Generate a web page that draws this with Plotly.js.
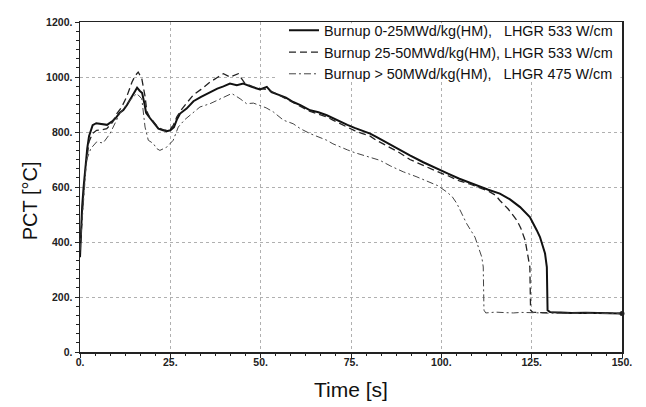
<!DOCTYPE html>
<html>
<head>
<meta charset="utf-8">
<script src="https://cdn.plot.ly/plotly-3.0.1.min.js"></script>
<style>
  html, body { margin: 0; padding: 0; background: #fff; }
  #chart { width: 646px; height: 407px; }
</style>
</head>
<body>
<div id="chart"></div>
<script>
// Series names
const seriesNames = [
  'Burnup 0-25MWd/kg(HM),\u00a0\u00a0\u00a0LHGR 533 W/cm',
  'Burnup 25-50MWd/kg(HM), LHGR 533 W/cm',
  'Burnup > 50MWd/kg(HM),\u00a0\u00a0\u00a0LHGR 475 W/cm'
];

// Burnup 0-25 MWd/kg(HM): time [s], PCT [°C]
const time1 = [0, 0.3, 0.6, 1, 1.5, 2, 2.5, 3, 3.5, 4.5, 6, 7.5, 9, 10, 11, 12, 13, 14, 15, 15.8, 16.5, 17.2, 17.8, 18.3, 19.4, 20.5, 21.7, 23, 24, 25, 26, 26.8, 27.7, 29.5, 31.4, 33.5, 36, 38, 39.7, 41.5, 43.4, 45.2, 47.5, 49.8, 51.7, 53, 55.4, 57, 59, 61, 63.7, 66, 68.3, 70, 72, 74, 76, 78, 80.3, 82, 85, 88, 91.3, 95, 99.6, 102, 105, 108, 110.7, 113, 116.2, 119, 121.8, 123.6, 124.5, 126.4, 127.3, 128.7, 129.2, 129.4, 130.1, 133, 136, 140, 145, 150];
const pct1  = [345, 450, 530, 600, 680, 740, 785, 810, 825, 832, 828, 826, 840, 852, 870, 880, 898, 920, 945, 961, 950, 942, 905, 870, 850, 830, 812, 806, 803, 806, 818, 845, 867, 885, 912, 928, 945, 958, 966, 976, 970, 976, 964, 955, 964, 945, 933, 925, 909, 898, 879, 872, 861, 850, 840, 826, 815, 806, 794, 782, 760, 738, 715, 690, 661, 648, 630, 615, 600, 590, 576, 555, 527, 503, 491, 443, 418, 358, 309, 152, 145, 144, 142, 143, 141, 140];

// Burnup 25-50 MWd/kg(HM)
const time2 = [0, 0.5, 1, 1.5, 2, 2.5, 3.5, 4.6, 6, 7.4, 9, 10.2, 11.5, 12.9, 14.4, 15.3, 16.1, 17.1, 18, 18.5, 19.4, 20, 21.7, 23.5, 25, 25.8, 26.8, 28, 29.5, 31.4, 33.5, 36, 38, 39.7, 41.5, 43.8, 45.7, 48, 50, 51.7, 55, 57, 59, 61, 63.7, 66, 68.3, 70, 72, 74, 76, 78, 80.3, 82, 85, 88, 91.3, 95, 99.6, 102, 105, 108, 110.7, 113, 115, 116.2, 118.5, 120.9, 122, 123.2, 124.5, 124.7, 125.3, 128, 131, 135, 140, 145, 150];
const pct2  = [360, 480, 576, 660, 720, 765, 795, 806, 808, 812, 835, 867, 890, 927, 982, 1005, 1018, 994, 930, 875, 850, 843, 815, 806, 812, 824, 855, 880, 905, 935, 955, 982, 998, 1012, 1000, 1012, 976, 964, 958, 955, 935, 920, 905, 893, 875, 866, 855, 843, 830, 818, 805, 795, 785, 770, 750, 728, 700, 678, 652, 640, 622, 610, 598, 585, 570, 551, 520, 479, 450, 406, 309, 152, 145, 143, 144, 142, 143, 141, 140];

// Burnup > 50 MWd/kg(HM)
const time3 = [0, 0.5, 1, 1.8, 3, 4.6, 6.4, 8.3, 11, 13.8, 15.7, 17.1, 18, 18.9, 20.3, 21.2, 22.1, 24, 25.8, 27.2, 29, 31.4, 33.2, 36, 38, 40.6, 42, 44.3, 46.1, 48, 49.8, 51.5, 53.5, 56.3, 59, 61, 63.7, 66, 68.3, 70, 72, 74, 76, 78, 80.3, 83, 86, 89.5, 93, 96.9, 99, 101.5, 103, 104.3, 106.1, 107, 109.3, 111.2, 111.6, 111.8, 112.3, 115, 118, 120, 122, 125, 128, 130, 135, 140, 145, 150];
const pct3  = [370, 470, 560, 697, 740, 764, 760, 794, 867, 915, 940, 921, 818, 770, 758, 740, 733, 745, 770, 818, 845, 873, 891, 903, 915, 933, 940, 921, 903, 905, 897, 888, 873, 843, 830, 812, 794, 782, 770, 757, 745, 735, 725, 717, 709, 697, 676, 655, 638, 618, 605, 582, 565, 540, 491, 467, 418, 345, 309, 152, 142, 145, 143, 142, 144, 144, 142, 141, 142, 141, 140, 140];

// Tick labels
const xTickVals = [0, 25, 50, 75, 100, 125, 150];
const xTickText = ['0.', '25.', '50.', '75.', '100.', '125.', '150.'];
const yTickVals = [0, 200, 400, 600, 800, 1000, 1200];
const yTickText = ['0.', '200.', '400.', '600.', '800.', '1000.', '1200.'];

const FONT = 'Liberation Sans, Arial, Helvetica, sans-serif';

const last = time1.length - 1;
const traces = [
  { x: time1, y: pct1, name: seriesNames[0], type: 'scatter', mode: 'lines',
    line: { color: '#111111', width: 2, dash: 'solid' } },
  { x: time2, y: pct2, name: seriesNames[1], type: 'scatter', mode: 'lines',
    line: { color: '#222222', width: 1.3, dash: '7px,4px' } },
  { x: time3, y: pct3, name: seriesNames[2], type: 'scatter', mode: 'lines',
    line: { color: '#444444', width: 1, dash: '7px,3px,2px,3px' } },
  // end-of-run marker on the final sample
  { x: [time1[last]], y: [pct1[last]], type: 'scatter', mode: 'markers', showlegend: false,
    marker: { color: '#222222', size: 5 }, cliponaxis: false }
];

const axisCommon = {
  showline: true, linecolor: '#222', linewidth: 1.5, mirror: true,
  showgrid: true, gridcolor: '#b0b0b0', gridwidth: 1, griddash: 'dot',
  zeroline: false,
  ticks: 'outside', ticklen: 4, tickcolor: '#222', tickwidth: 1,
  tickfont: { family: FONT, size: 10.5, color: '#222', weight: 'bold' },
};

const layout = {
  width: 646, height: 407,
  margin: { l: 80, r: 24, t: 22, b: 55 },
  paper_bgcolor: '#ffffff', plot_bgcolor: '#ffffff',
  font: { family: FONT, color: '#111' },
  showlegend: true,
  legend: {
    x: 0.9926, xanchor: 'right', y: 0.9076, yanchor: 'middle',
    bgcolor: 'rgba(0,0,0,0)', borderwidth: 0,
    font: { family: FONT, size: 14.4, color: '#111' },
    tracegroupgap: 0
  },
  // white panel behind the legend that hides the grid there
  shapes: [{
    type: 'rect', xref: 'paper', yref: 'paper',
    x0: 0.3653, x1: 0.997, y0: 0.8242, y1: 0.996,
    fillcolor: '#ffffff', line: { width: 0 }, layer: 'above'
  }],
  xaxis: Object.assign({}, axisCommon, {
    range: [0, 150], tickmode: 'array', tickvals: xTickVals, ticktext: xTickText,
    ticklabelstandoff: -4,
    minor: { dtick: 25 / 6, ticks: 'outside', ticklen: 2.5, tickcolor: '#222', showgrid: false },
    title: { text: 'Time [s]', font: { family: FONT, size: 21, color: '#111' }, standoff: 15 }
  }),
  yaxis: Object.assign({}, axisCommon, {
    range: [0, 1200], tickmode: 'array', tickvals: yTickVals, ticktext: yTickText,
    ticklabelstandoff: 0,
    minor: { dtick: 200 / 6, ticks: 'outside', ticklen: 2.5, tickcolor: '#222', showgrid: false },
    title: { text: 'PCT [°C]\u00a0\u00a0\u00a0\u00a0\u00a0\u200b', font: { family: FONT, size: 20, color: '#111' }, standoff: 3 }
  })
};

Plotly.newPlot('chart', traces, layout, { displayModeBar: false, staticPlot: true });
</script>
</body>
</html>
